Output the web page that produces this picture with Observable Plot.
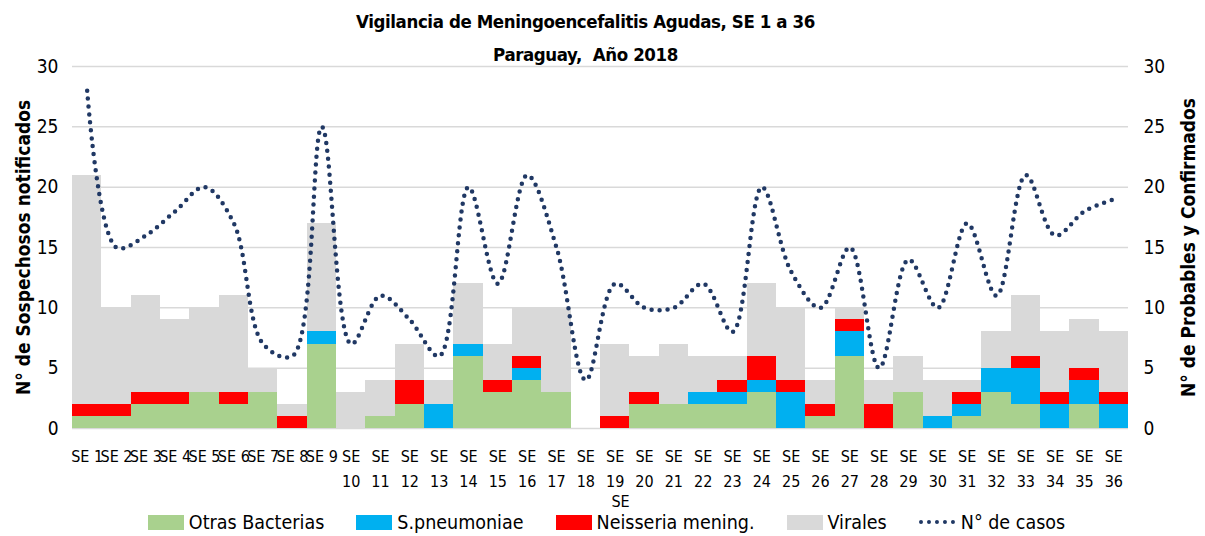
<!DOCTYPE html>
<html><head><meta charset="utf-8">
<script src="https://cdn.jsdelivr.net/npm/d3@7"></script>
<script src="https://cdn.jsdelivr.net/npm/@observablehq/plot@0.6"></script>
<style>
body{margin:0;background:#fff;width:1205px;height:536px;overflow:hidden;font-family:"DejaVu Sans Condensed","DejaVu Sans",sans-serif;font-stretch:condensed;color:#000}
#title{height:56px;padding-top:5px;box-sizing:border-box;text-align:center;font-weight:bold;font-size:18.5px;letter-spacing:-0.4px;line-height:33px;padding-right:34px}
#chart svg{display:block;overflow:visible;font-stretch:condensed}
#legend{display:flex;justify-content:center;align-items:center;height:28px;font-size:19.5px;padding-left:8px}
.item{display:flex;align-items:center;margin:0 16px}
.sw{width:36px;height:15px;margin-right:5px}
.dl{width:36px;height:0;border-top:4px dotted #203864;margin-right:6px}
</style></head>
<body>
<div id="title">Vigilancia de Meningoencefalitis Agudas, SE 1 a 36<br>Paraguay,&nbsp; Año 2018</div>
<div id="chart"></div>
<div id="legend"></div>
<script>
const semanas = ["SE 1","SE 2","SE 3","SE 4","SE 5","SE 6","SE 7","SE 8","SE 9","SE 10","SE 11","SE 12","SE 13","SE 14","SE 15","SE 16","SE 17","SE 18","SE 19","SE 20","SE 21","SE 22","SE 23","SE 24","SE 25","SE 26","SE 27","SE 28","SE 29","SE 30","SE 31","SE 32","SE 33","SE 34","SE 35","SE 36"];
const otrasBacterias = [1,1,2,2,3,2,3,0,7,0,1,2,0,6,3,4,3,0,0,2,2,2,2,3,0,1,6,0,3,0,1,3,2,0,2,0];
const sPneumoniae    = [0,0,0,0,0,0,0,0,1,0,0,0,2,1,0,1,0,0,0,0,0,1,1,1,3,0,2,0,0,1,1,2,3,2,2,2];
const neisseria      = [1,1,1,1,0,1,0,1,0,0,0,2,0,0,1,1,0,0,1,1,0,0,1,2,1,1,1,2,0,0,1,0,1,1,1,1];
const virales        = [19,8,8,6,7,8,2,1,9,3,3,3,2,5,3,4,7,0,6,3,5,3,2,6,6,2,1,2,3,3,1,3,5,5,4,5];
const nCasos         = [28,15,16,18,20,17,7,6,25,7,11,9,6,20,12,21,15,4,12,10,10,12,8,20,13,10,15,5,14,10,17,11,21,16,18,19];
const yTicks = [0,5,10,15,20,25,30];

const series = ["Otras Bacterias","S.pneumoniae","Neisseria mening.","Virales"];
const colors = ["#a9d18e","#00b0f0","#ff0000","#d9d9d9"];
const lineColor = "#203864";
const seriesValues = [otrasBacterias, sPneumoniae, neisseria, virales];

const bars = [];
semanas.forEach((se, i) => series.forEach((s, k) => bars.push({se, serie: s, value: seriesValues[k][i]})));
const casos = semanas.map((se, i) => ({se, n: nCasos[i]}));

const fontFam = '"DejaVu Sans Condensed","DejaVu Sans",sans-serif';

const chart = Plot.plot({
  width: 1205,
  height: 452,
  marginTop: 10,
  marginLeft: 72,
  marginRight: 77,
  marginBottom: 80,
  style: {fontFamily: fontFam, color: "#000", background: "#fff"},
  x: {domain: semanas, padding: 0, round: false},
  y: {domain: [0, 30]},
  color: {domain: series, range: colors},
  marks: [
    Plot.gridY(yTicks, {stroke: "#d9d9d9", strokeOpacity: 1, strokeWidth: 1.5}),
    Plot.barY(bars, Plot.stackY({x: "se", y: "value", fill: "serie", order: series, shapeRendering: "crispEdges"})),
    Plot.line(casos, {x: "se", y: "n", curve: "catmull-rom", stroke: lineColor, strokeWidth: 4.5, strokeDasharray: "0 8", strokeLinecap: "round"}),
    Plot.axisY({anchor: "left", ticks: yTicks, tickSize: 0, tickPadding: 14, fontSize: 19, label: "N° de Sospechosos notificados", labelAnchor: "center", labelArrow: "none", labelOffset: 56}),
    Plot.axisY({anchor: "right", ticks: yTicks, tickSize: 0, tickPadding: 15, fontSize: 19, label: "N° de Probables y Confirmados", labelAnchor: "center", labelArrow: "none", labelOffset: 66}),
    Plot.axisX({anchor: "bottom", tickSize: 0, tickPadding: 16, fontSize: 16, lineHeight: 1.55,
      tickFormat: d => { const n = d.replace("SE ", ""); return n.length > 1 ? "SE\n" + n : d; },
      label: "SE", labelAnchor: "center", labelArrow: "none", labelOffset: 78})
  ]
});
document.getElementById("chart").appendChild(chart);
d3.select(chart).selectAll('g[aria-label$="axis label"] text').style("font-weight", "bold").style("font-size", "19px");
d3.select(chart).selectAll('g[aria-label="x-axis label"] text').style("font-weight", "normal").style("font-size", "16px").attr("transform", function(){ return (this.getAttribute("transform")||"") + " translate(20,0)"; });

const legend = d3.select("#legend");
series.forEach((s, k) => {
  const it = legend.append("div").attr("class", "item");
  it.append("div").attr("class", "sw").style("background", colors[k]);
  it.append("span").text(s);
});
const it = legend.append("div").attr("class", "item");
it.append("div").attr("class", "dl");
it.append("span").text("N° de casos");
</script>
</body></html>
